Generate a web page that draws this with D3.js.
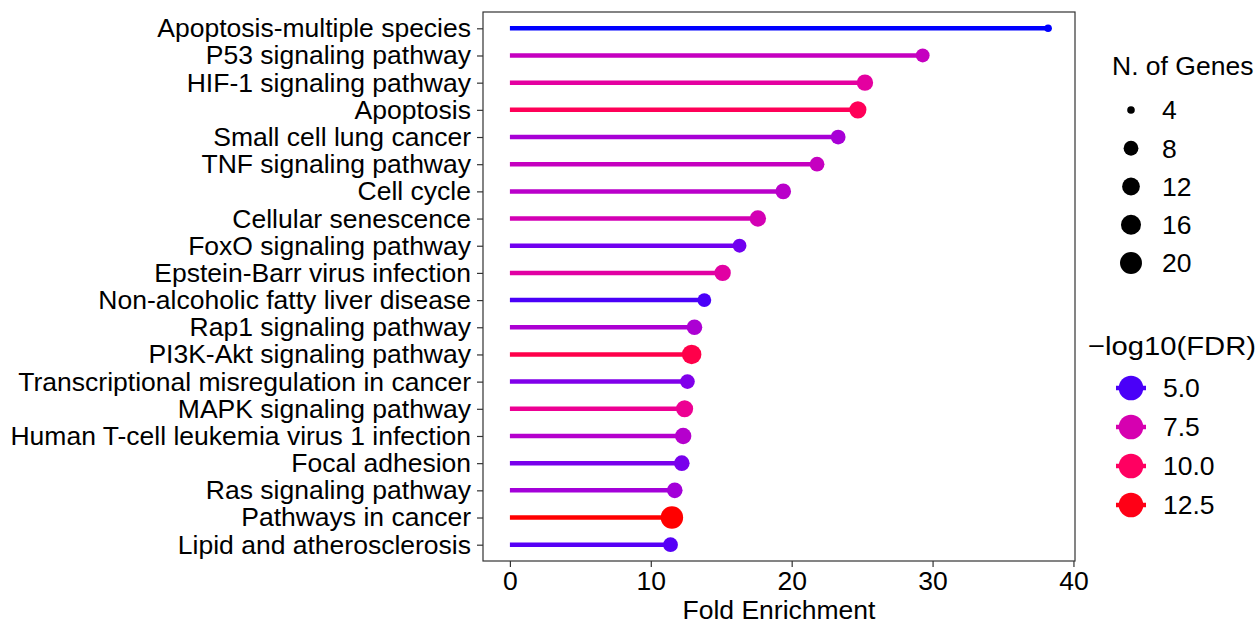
<!DOCTYPE html>
<html>
<head>
<meta charset="utf-8">
<script src="https://cdn.jsdelivr.net/npm/d3@7"></script>
<style>
  body { margin: 0; background: #fff; }
  text { font-family: "Liberation Sans", Arial, sans-serif; fill: #000; }
</style>
</head>
<body>
<svg id="chart" width="1260" height="625"></svg>
<script>
// KEGG pathways, top to bottom
const pathways = [
  "Apoptosis-multiple species", "P53 signaling pathway", "HIF-1 signaling pathway",
  "Apoptosis", "Small cell lung cancer", "TNF signaling pathway", "Cell cycle",
  "Cellular senescence", "FoxO signaling pathway", "Epstein-Barr virus infection",
  "Non-alcoholic fatty liver disease", "Rap1 signaling pathway", "PI3K-Akt signaling pathway",
  "Transcriptional misregulation in cancer", "MAPK signaling pathway",
  "Human T-cell leukemia virus 1 infection", "Focal adhesion", "Ras signaling pathway",
  "Pathways in cancer", "Lipid and atherosclerosis"
];
const foldEnrichment = [38.2, 29.3, 25.2, 24.7, 23.3, 21.8, 19.4, 17.6, 16.3, 15.1,
                        13.8, 13.1, 12.9, 12.6, 12.4, 12.3, 12.2, 11.7, 11.5, 11.4];
const nGenes = [4, 7, 10, 11, 8, 8, 9, 10, 7, 10, 7, 9, 15, 8, 11, 10, 9, 9, 21, 8];
const negLog10FDR = [4.7, 7.0, 8.0, 10.3, 6.3, 7.0, 6.7, 7.4, 5.4, 7.9,
                     5.0, 6.4, 10.8, 5.6, 8.4, 6.6, 5.5, 6.2, 12.9, 5.1];

const xTicks = [0, 10, 20, 30, 40];
const sizeBreaks = [4, 8, 12, 16, 20];
const colorBreaks = [5.0, 7.5, 10.0, 12.5];

const data = pathways.map((p, i) => ({
  name: p, fe: foldEnrichment[i], n: nGenes[i], fdr: negLog10FDR[i]
}));

const FS = 26.5;
const svg = d3.select("#chart");
const panel = { left: 483, right: 1075, top: 12, bottom: 561 };

const feMax = d3.max(foldEnrichment);
const x = d3.scaleLinear()
  .domain([-0.05 * feMax, feMax * 1.05])
  .range([panel.left, panel.right]);

const y = d3.scalePoint()
  .domain(pathways)
  .range([panel.top, panel.bottom])
  .padding(0.6);

const color = d3.scaleLinear()
  .domain(d3.extent(negLog10FDR))
  .range(["blue", "red"])
  .interpolate(d3.interpolateHcl);

// ggplot-style area scale: radius grows with sqrt of rescaled value
const nExt = d3.extent(nGenes);
const rad = d3.scaleLinear().domain([0, 1]).range([3.8, 11.2]);
const r = n => rad(Math.sqrt((n - nExt[0]) / (nExt[1] - nExt[0])));

// panel border
svg.append("rect")
  .attr("x", panel.left).attr("y", panel.top)
  .attr("width", panel.right - panel.left).attr("height", panel.bottom - panel.top)
  .attr("fill", "none").attr("stroke", "#333").attr("stroke-width", 1.2);

// lollipops
const g = svg.append("g");
g.selectAll("line")
  .data(data)
  .join("line")
  .attr("x1", x(0))
  .attr("x2", d => x(d.fe))
  .attr("y1", d => y(d.name))
  .attr("y2", d => y(d.name))
  .attr("stroke", d => color(d.fdr))
  .attr("stroke-width", 4.5);

g.selectAll("circle")
  .data(data)
  .join("circle")
  .attr("cx", d => x(d.fe))
  .attr("cy", d => y(d.name))
  .attr("r", d => r(d.n))
  .attr("fill", d => color(d.fdr));

// axes
const xAxis = d3.axisBottom(x).tickValues(xTicks).tickSize(6).tickPadding(4);
const yAxis = d3.axisLeft(y).tickSize(6).tickPadding(6);

const gx = svg.append("g")
  .attr("transform", `translate(0,${panel.bottom})`)
  .call(xAxis);
gx.select(".domain").remove();
gx.selectAll("line").attr("stroke", "#333").attr("stroke-width", 1.2);
gx.selectAll("text").attr("font-size", FS).attr("fill", "#000");

const gy = svg.append("g")
  .attr("transform", `translate(${panel.left},0)`)
  .call(yAxis);
gy.select(".domain").remove();
gy.selectAll("line").attr("stroke", "#333").attr("stroke-width", 1.2);
gy.selectAll("text").attr("font-size", FS).attr("fill", "#000");

svg.append("text")
  .attr("x", (panel.left + panel.right) / 2)
  .attr("y", 619)
  .attr("text-anchor", "middle")
  .attr("font-size", FS)
  .text("Fold Enrichment");

// size legend
svg.append("text")
  .attr("x", 1112).attr("y", 75)
  .attr("font-size", FS)
  .text("N. of Genes");

const sizeY = d3.scalePoint().domain(sizeBreaks).range([110, 263]);
const sl = svg.append("g").selectAll("g")
  .data(sizeBreaks)
  .join("g")
  .attr("transform", d => `translate(1131,${sizeY(d)})`);
sl.append("circle").attr("r", d => r(d)).attr("fill", "#000");
sl.append("text")
  .attr("x", 31).attr("dy", "0.35em")
  .attr("font-size", FS)
  .text(d => d);

// colour legend
svg.append("text")
  .attr("x", 1088).attr("y", 355)
  .attr("font-size", FS)
  .attr("textLength", 168)
  .attr("lengthAdjust", "spacingAndGlyphs")
  .text("\u2212log10(FDR)");

const colY = d3.scalePoint().domain(colorBreaks).range([388, 505]);
const cl = svg.append("g").selectAll("g")
  .data(colorBreaks)
  .join("g")
  .attr("transform", d => `translate(1131,${colY(d)})`);
cl.append("line")
  .attr("x1", -15).attr("x2", 15)
  .attr("stroke", d => color(d)).attr("stroke-width", 4.5);
cl.append("circle").attr("r", 12.3).attr("fill", d => color(d));
cl.append("text")
  .attr("x", 32).attr("dy", "0.35em")
  .attr("font-size", FS)
  .text(d => d.toFixed(1));
</script>
</body>
</html>
